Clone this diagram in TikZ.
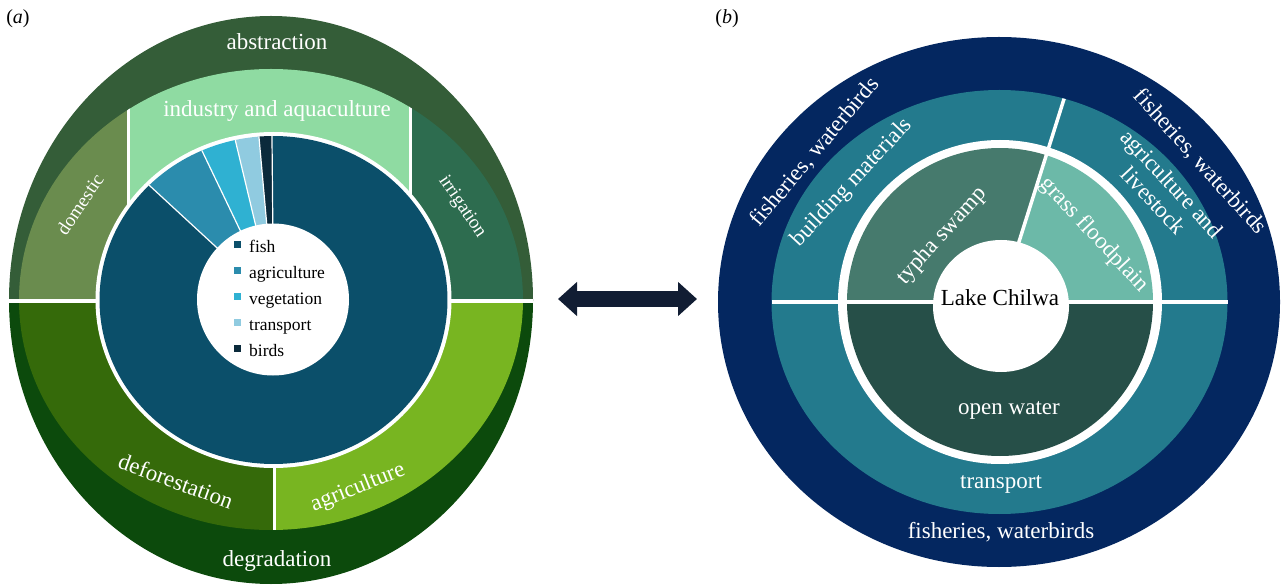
\documentclass[tikz,border=0pt]{standalone}
\usepackage{fontspec}
\setmainfont{Liberation Serif}
\usetikzlibrary{arrows.meta}
\definecolor{abstrc}{HTML}{345D38}
\definecolor{domc}{HTML}{6A8C4E}
\definecolor{indc}{HTML}{8FDBA2}
\definecolor{irrc}{HTML}{2D6C4F}
\definecolor{degrc}{HTML}{0C4A0C}
\definecolor{defc}{HTML}{356A0A}
\definecolor{agric}{HTML}{78B521}
\definecolor{fishc}{HTML}{0B4F6A}
\definecolor{pagric}{HTML}{2B8CAD}
\definecolor{vegc}{HTML}{2FB1D2}
\definecolor{transc}{HTML}{90CBE0}
\definecolor{birdc}{HTML}{0B2A3B}
\definecolor{navyc}{HTML}{042760}
\definecolor{tealc}{HTML}{237A8D}
\definecolor{typhac}{HTML}{467A6D}
\definecolor{grassc}{HTML}{6CB9A8}
\definecolor{openc}{HTML}{264F48}
\definecolor{arrowc}{HTML}{111D33}
\begin{document}
\begin{tikzpicture}[x=1pt,y=1pt,
  lbl/.style={text=white, font=\fontsize{23}{25}\selectfont, inner sep=0pt},
  smlbl/.style={text=white, font=\fontsize{19}{22}\selectfont, inner sep=0pt},
  leg/.style={text=black, font=\fontsize{17.5}{20}\selectfont, inner sep=0pt, anchor=base west},
  legsq/.style={minimum size=7pt, inner sep=0pt, draw=none},
  sep/.style={draw=white, line width=3.5pt},
  thinsep/.style={draw=white, line width=1.2pt},
  panel/.style={text=black, font=\fontsize{20}{22}\selectfont, inner sep=0pt}]
\useasboundingbox (0,0) rectangle (1285,587);
\fill[white] (0,0) rectangle (1285,587);

% ---------- (a) ----------
\fill[abstrc] (533,287) arc[start angle=0,end angle=180,x radius=262,y radius=284] -- cycle;
\fill[degrc] (9,287) arc[start angle=180,end angle=360,x radius=262,y radius=284] -- cycle;
\begin{scope}
  \clip (523,287) arc[start angle=0,end angle=180,x radius=252,y radius=231] -- cycle;
  \fill[domc] (0,287) rectangle (128,587);
  \fill[indc] (128,287) rectangle (410,587);
  \fill[irrc] (410,287) rectangle (560,587);
  \draw[sep,line width=3pt] (128,287) -- (128,587);
  \draw[sep,line width=3pt] (410,287) -- (410,587);
\end{scope}
\begin{scope}
  \clip (19,287) arc[start angle=180,end angle=360,x radius=252,y radius=230] -- cycle;
  \fill[defc] (0,0) rectangle (274,287);
  \fill[agric] (274,0) rectangle (560,287);
  \draw[sep,line width=3pt] (274,0) -- (274,287);
\end{scope}
\draw[sep] (9,286) -- (533,286);

\coordinate (PC) at (273.5,287);
\fill[white] (PC) ellipse[x radius=178,y radius=168];
\fill[fishc] (PC) -- +(135.6:174 and 164) arc[start angle=135.6,end angle=450.5,x radius=174,y radius=164] -- cycle;
\fill[pagric] (PC) -- +(114.3:174 and 164) arc[start angle=114.3,end angle=135.6,x radius=174,y radius=164] -- cycle;
\fill[vegc] (PC) -- +(102.7:174 and 164) arc[start angle=102.7,end angle=114.3,x radius=174,y radius=164] -- cycle;
\fill[transc] (PC) -- +(94.8:174 and 164) arc[start angle=94.8,end angle=102.7,x radius=174,y radius=164] -- cycle;
\fill[birdc] (PC) -- +(90.5:174 and 164) arc[start angle=90.5,end angle=94.8,x radius=174,y radius=164] -- cycle;
\foreach \a in {90.5,94.8,102.7,114.3,135.6}
  \draw[thinsep] (PC) -- +(\a:174 and 164);
\fill[white] (273,287.5) circle[radius=76];

\node[legsq, fill=fishc]   (sq1) at (237.5,342.5) {};
\node[legsq, fill=pagric]  (sq2) at (237.5,316.5) {};
\node[legsq, fill=vegc]    (sq3) at (237.5,290.5) {};
\node[legsq, fill=transc]  (sq4) at (237.5,264.5) {};
\node[legsq, fill=birdc]   (sq5) at (237.5,238.5) {};
\node[leg] (l1) at (249,334) {fish};
\node[leg] (l2) at (249,308) {agriculture};
\node[leg] (l3) at (249,282) {vegetation};
\node[leg] (l4) at (249,256) {transport};
\node[leg] (l5) at (249,230) {birds};

\node[lbl, anchor=base] (abs) at (277,537) {abstraction};
\node[lbl, anchor=base] (ind) at (277,470) {industry and aquaculture};
\node[lbl, anchor=base] (deg) at (277,21) {degradation};
\node[smlbl, rotate=56] (dom) at (80,383) {domestic};
\node[smlbl, rotate=-56] (irr) at (462,380) {irrigation};
\node[lbl, rotate=-20] (def) at (176,106) {deforestation};
\node[lbl, rotate=22] (agr) at (358,99) {agriculture};
\node[panel] (pa) at (18,568) {(\textit{a})};

% ---------- arrow ----------
\coordinate (arrL) at (558,288);
\coordinate (arrR) at (697,288);
\draw[arrowc, line width=16pt, {Triangle[length=19pt,width=33pt]}-{Triangle[length=19pt,width=33pt]}] (arrL) -- (arrR);

% ---------- (b) ----------
\coordinate (RC) at (1000,285);
\fill[navyc] (999,285) ellipse[x radius=281,y radius=265];
\fill[tealc] (999.5,285) ellipse[x radius=228,y radius=212];
\fill[white] (RC) ellipse[x radius=162,y radius=162];
\fill[typhac] (RC) -- +(72.5:153 and 154) arc[start angle=72.5,end angle=180,x radius=153,y radius=154] -- cycle;
\fill[grassc] (RC) -- +(0:153 and 154) arc[start angle=0,end angle=72.5,x radius=153,y radius=154] -- cycle;
\fill[openc] (RC) -- +(180:153 and 154) arc[start angle=180,end angle=360,x radius=153,y radius=154] -- cycle;
\begin{scope}
  \clip (999.5,285) ellipse[x radius=228,y radius=212];
  \draw[sep] (RC) -- +(72.5:300);
\end{scope}
\draw[sep] (771.5,285) -- (1227.5,285);
\fill[white] (1001,281) ellipse[x radius=68,y radius=66];

\node[lbl, text=black, anchor=base] (lake) at (1000,281) {Lake Chilwa};
\node[lbl, anchor=base] (ow) at (1009,173) {open water};
\node[lbl, anchor=base] (tr) at (1001,99) {transport};
\node[lbl, anchor=base] (fw3) at (1001,49) {fisheries, waterbirds};
\node[lbl, rotate=50] (fw1) at (815,435) {fisheries, waterbirds};
\node[lbl, rotate=47] (bm) at (852,404) {building materials};
\node[lbl, rotate=48] (ts) at (942,351) {typha swamp};
\node[lbl, rotate=-47] (gf) at (1094,352) {grass floodplain};
\node[lbl, rotate=-47, align=center] (al) at (1163,395) {agriculture and\\livestock};
\node[lbl, rotate=-48] (fw2) at (1200,425) {fisheries, waterbirds};
\node[panel] (pb) at (727,568) {(\textit{b})};
\end{tikzpicture}
\end{document}
